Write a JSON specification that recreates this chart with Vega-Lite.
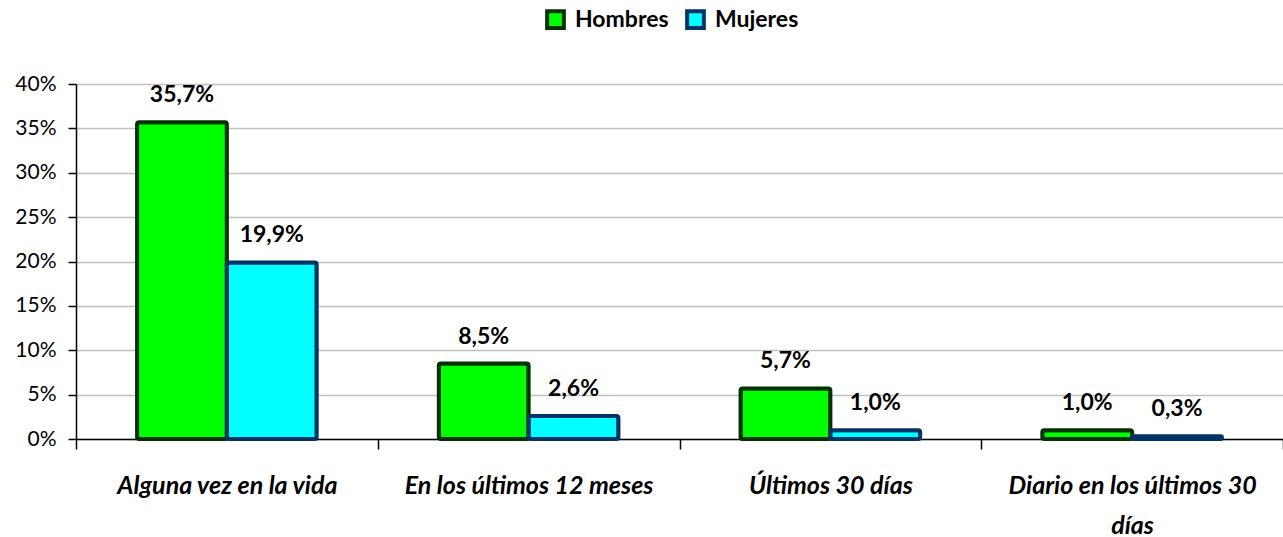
{
  "$schema": "https://vega.github.io/schema/vega-lite/v6.json",
  "width": 1207,
  "height": 355,
  "autosize": {"type": "none"},
  "padding": {"left": 76, "top": 84, "right": 0, "bottom": 98},
  "config": {
    "view": {"stroke": null},
    "font": "Lato",
    "locale": {"number": {"decimal": ",", "thousands": ".", "grouping": [3], "currency": ["", " €"]}}
  },
  "data": {
    "values": [
      {"cat": "Alguna vez en la vida", "sexo": "Hombres", "v": 0.357},
      {"cat": "Alguna vez en la vida", "sexo": "Mujeres", "v": 0.199},
      {"cat": "En los últimos 12 meses", "sexo": "Hombres", "v": 0.085},
      {"cat": "En los últimos 12 meses", "sexo": "Mujeres", "v": 0.026},
      {"cat": "Últimos 30 días", "sexo": "Hombres", "v": 0.057},
      {"cat": "Últimos 30 días", "sexo": "Mujeres", "v": 0.010},
      {"cat": "Diario en los últimos 30 días", "sexo": "Hombres", "v": 0.010},
      {"cat": "Diario en los últimos 30 días", "sexo": "Mujeres", "v": 0.003}
    ]
  },
  "encoding": {
    "x": {
      "field": "cat", "type": "nominal", "sort": null,
      "scale": {"paddingInner": 0, "paddingOuter": 0},
      "axis": {
        "title": null, "labelAngle": 0, "tickBand": "extent", "grid": false,
        "domainColor": "#000000", "domainWidth": 1.5, "tickColor": "#000000", "tickWidth": 1.5, "tickSize": 10,
        "labelFont": "Lato", "labelFontSize": 25, "labelFontWeight": "bold", "labelFontStyle": "italic",
        "labelColor": "#000000", "labelPadding": 24, "labelLineHeight": 40, "labelBaseline": "top",
        "labelOverlap": false, "labelLimit": 500,
        "labelExpr": "datum.label == 'Diario en los últimos 30 días' ? ['Diario en los últimos 30', 'días'] : datum.label"
      }
    },
    "xOffset": {"field": "sexo", "type": "nominal", "scale": {"paddingOuter": 0.68, "paddingInner": 0}},
    "y": {
      "field": "v", "type": "quantitative",
      "scale": {"domain": [0, 0.4], "nice": false},
      "axis": {
        "title": null, "format": ".0%", "values": [0, 0.05, 0.1, 0.15, 0.2, 0.25, 0.3, 0.35, 0.4],
        "labelOverlap": false,
        "gridColor": "#c0c0c0", "gridWidth": 1.5, "domainColor": "#000000", "domainWidth": 1.5,
        "tickColor": "#000000", "tickWidth": 1.5, "tickSize": 8,
        "labelFontSize": 21, "labelColor": "#000000", "labelPadding": 12
      }
    }
  },
  "layer": [
    {
      "mark": {"type": "bar", "strokeWidth": 4, "cornerRadius": 2},
      "encoding": {
        "color": {
          "field": "sexo", "type": "nominal",
          "scale": {"domain": ["Hombres", "Mujeres"], "range": ["#00ff00", "#00ffff"]},
          "legend": {
            "title": null, "orient": "none", "direction": "horizontal", "legendX": 468, "legendY": -76,
            "symbolType": "square", "symbolSize": 280, "symbolStrokeWidth": 4, "symbolOpacity": 1,
            "labelFontSize": 23, "labelFontWeight": "bold", "labelColor": "#000000", "labelFont": "Lato",
            "columnPadding": 10, "labelOffset": 8
          }
        },
        "stroke": {
          "field": "sexo", "type": "nominal",
          "scale": {"domain": ["Hombres", "Mujeres"], "range": ["#003300", "#003366"]},
          "legend": null
        }
      }
    },
    {
      "mark": {"type": "text", "baseline": "bottom", "dy": -15, "fontSize": 23, "fontWeight": "bold", "color": "#000000"},
      "encoding": {"text": {"field": "v", "type": "quantitative", "format": ".1%"}}
    }
  ]
}
